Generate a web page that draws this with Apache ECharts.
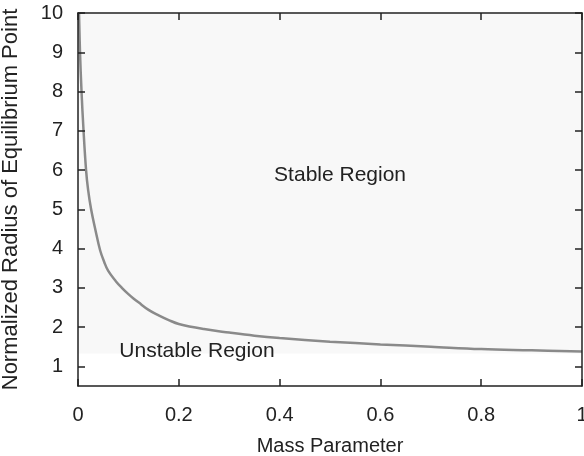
<!DOCTYPE html>
<html>
<head>
<meta charset="utf-8">
<script src="https://cdn.jsdelivr.net/npm/echarts@6/dist/echarts.min.js"></script>
<style>
  html, body { margin: 0; padding: 0; background: #fff; }
  #chart { width: 584px; height: 456px; }
</style>
</head>
<body>
<div id="chart"></div>
<script>
// mass parameter (x) and equilibrium radius (y)
const massParam = [0.002, 0.004, 0.007, 0.011, 0.016, 0.02, 0.026, 0.035, 0.044, 0.052, 0.06, 0.075, 0.087, 0.1, 0.11, 0.12, 0.14, 0.16, 0.18, 0.2, 0.25, 0.3, 0.35, 0.4, 0.5, 0.6, 0.7, 0.8, 0.9, 1.0]
const radius = [10, 9, 8, 7, 6, 5.5, 5, 4.45, 3.95, 3.66, 3.43, 3.17, 3.0, 2.84, 2.73, 2.63, 2.44, 2.3, 2.18, 2.08, 1.95, 1.86, 1.78, 1.72, 1.63, 1.56, 1.5, 1.44, 1.41, 1.38]
const xTicks = [0, 0.2, 0.4, 0.6, 0.8, 1]
const yTicks = [1, 2, 3, 4, 5, 6, 7, 8, 9, 10]
const stableFloor = 1.33

const font = 'Liberation Sans, Arial, Helvetica, sans-serif'
const chart = echarts.init(document.getElementById('chart'))

const tickStyle = { show: true, inside: true, length: 7, lineStyle: { color: '#222', width: 1.5 } }
const lineStyle = { show: true, onZero: false, lineStyle: { color: '#222', width: 1.5 } }

chart.setOption({
  animation: false,
  textStyle: { fontFamily: font },
  grid: { left: 78, right: 2, top: 13, bottom: 70, outerBoundsMode: 'none', containLabel: false },
  xAxis: [{
    type: 'value', min: 0, max: 1, z: 10,
    axisLine: lineStyle, splitLine: { show: false },
    axisTick: Object.assign({ customValues: xTicks }, tickStyle),
    axisLabel: { customValues: xTicks, color: '#222', fontSize: 20, margin: 19, formatter: v => String(v) },
    name: 'Mass Parameter', nameLocation: 'middle', nameGap: 50,
    nameTextStyle: { color: '#222', fontSize: 20 }
  }, {
    type: 'value', position: 'top', min: 0, max: 1, z: 10,
    axisLine: lineStyle, splitLine: { show: false },
    axisTick: Object.assign({ customValues: xTicks }, tickStyle),
    axisLabel: { show: false }
  }],
  yAxis: [{
    type: 'value', min: 0.5, max: 10, z: 10,
    axisLine: lineStyle, splitLine: { show: false },
    axisTick: Object.assign({ customValues: yTicks }, tickStyle),
    axisLabel: { customValues: yTicks, color: '#222', fontSize: 20, margin: 15 },
    name: 'Normalized Radius of Equilibrium Point', nameLocation: 'middle', nameGap: 56,
    nameTextStyle: { color: '#222', fontSize: 22 }
  }, {
    type: 'value', position: 'right', min: 0.5, max: 10, z: 10,
    axisLine: lineStyle, splitLine: { show: false },
    axisTick: Object.assign({ customValues: yTicks }, tickStyle),
    axisLabel: { show: false }
  }],
  series: [{
    type: 'line',
    data: massParam.map((x, i) => [x, radius[i]]),
    smooth: 0.4,
    showSymbol: false,
    clip: true,
    z: 3,
    lineStyle: { color: '#8a8a8a', width: 2.5 },
    markArea: {
      silent: true,
      z: 0,
      itemStyle: { color: '#f8f8f8' },
      data: [[{ yAxis: stableFloor }, { yAxis: 10 }]]
    },
    markPoint: {
      silent: true,
      symbol: 'circle', symbolSize: 0,
      label: { show: true, position: 'inside', color: '#222', fontSize: 21, fontFamily: font },
      data: [
        { coord: [0.52, 5.88], value: 'Stable Region' },
        { coord: [0.236, 1.38], value: 'Unstable Region' }
      ]
    }
  }]
})
</script>
</body>
</html>
